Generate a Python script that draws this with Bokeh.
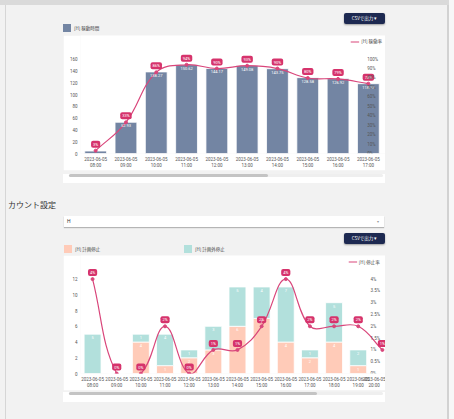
import math
from bokeh.plotting import figure
from bokeh.models import (ColumnDataSource, Range1d, LabelSet, Legend, LegendItem, Div)
from bokeh.layouts import column
from bokeh.embed import file_html
from bokeh.resources import INLINE
from bokeh.core.properties import value

# ---------------- data ----------------
date_label = "2023-06-05"
hours_top = ["08:00", "09:00", "10:00", "11:00", "12:00", "13:00", "14:00", "15:00", "16:00", "17:00"]
uptime = [4.17, 52.93, 138.27, 150.62, 144.17, 149.08, 143.75, 128.58, 126.92, 118.33]
uptime_rate = [3, 33, 86, 94, 90, 93, 90, 80, 79, 74]
y_ticks_top = [0, 20, 40, 60, 80, 100, 120, 140, 160]
pct_ticks_top = [0, 10, 20, 30, 40, 50, 60, 70, 80, 90, 100]

hours_bottom = ["08:00", "09:00", "10:00", "11:00", "12:00", "13:00", "14:00",
                "15:00", "16:00", "17:00", "18:00", "19:00", "20:00"]
planned_stop = [0, 0, 4, 1, 2, 3, 6, 7, 4, 2, 4, 1, 0]
unplanned_stop = [5, 0, 1, 4, 1, 3, 5, 4, 7, 1, 5, 2, 0]
stop_rate = [4, 0, 0, 2, 0, 1, 1, 2, 4, 2, 2, 2, 1]
y_ticks_bottom = [0, 2, 4, 6, 8, 10, 12]
pct_ticks_bottom = [0, 0.5, 1, 1.5, 2, 2.5, 3, 3.5, 4]

legend_top_bar = "[H] 稼動時間"
legend_top_line = "[H] 稼働率"
legend_bottom_a = "[H] 計画停止"
legend_bottom_b = "[H] 計画外停止"
legend_bottom_line = "[H] 停止率"
section_title = "カウント設定"
select_value = "H"
csv_label = "CSVで出力 ▾"

# ---------------- style ----------------
PAGE_BG = "#f2f2f2"
BAR_BLUE = "#7385a3"
PEACH = "#ffcbb8"
TEAL = "#b2e0dc"
PINK = "#d9467b"
PINK_BOX = "#d6336c"
NAVY = "#1d2951"
TICK_FONT = "Roboto"
JP_FONT = "Noto Sans CJK JP"


def smooth_segments(xs, ys, sx, sy, t=0.4):
    P = [(x * sx, y * sy) for x, y in zip(xs, ys)]
    n = len(P)
    cpp, cpn = [], []
    for i in range(n):
        pv = P[max(i - 1, 0)]
        c = P[i]
        nx = P[min(i + 1, n - 1)]
        d01 = math.hypot(c[0] - pv[0], c[1] - pv[1])
        d12 = math.hypot(nx[0] - c[0], nx[1] - c[1])
        tot = d01 + d12
        fa = t * d01 / tot if tot else 0
        fb = t * d12 / tot if tot else 0
        dx, dy = nx[0] - pv[0], nx[1] - pv[1]
        cpp.append((c[0] - fa * dx, c[1] - fa * dy))
        cpn.append((c[0] + fb * dx, c[1] + fb * dy))
    seg = dict(x0=[], y0=[], x1=[], y1=[], cx0=[], cy0=[], cx1=[], cy1=[])
    for i in range(n - 1):
        seg["x0"].append(P[i][0] / sx)
        seg["y0"].append(P[i][1] / sy)
        seg["x1"].append(P[i + 1][0] / sx)
        seg["y1"].append(P[i + 1][1] / sy)
        seg["cx0"].append(cpn[i][0] / sx)
        seg["cy0"].append(cpn[i][1] / sy)
        seg["cx1"].append(cpp[i + 1][0] / sx)
        seg["cy1"].append(cpp[i + 1][1] / sy)
    return seg


def style_axes(p, n, hours, yticks):
    p.xaxis.ticker = list(range(n))
    p.xaxis.major_label_overrides = {i: f"{date_label}\n{h}" for i, h in enumerate(hours)}
    p.yaxis.ticker = yticks
    for ax in (p.xaxis, p.yaxis):
        ax.axis_line_color = None
        ax.major_tick_line_color = None
        ax.minor_tick_line_color = None
        ax.major_tick_out = 0
        ax.major_tick_in = 0
        ax.minor_tick_out = 0
        ax.minor_tick_in = 0
        ax.major_label_text_font_size = "4.5px"
        ax.major_label_text_font = TICK_FONT
        ax.major_label_text_color = "#555555"
    p.xaxis.major_label_standoff = 3
    p.yaxis.major_label_standoff = 3
    p.grid.visible = False


def make_legend(p, renderer, label, margin_top):
    leg = Legend(items=[LegendItem(label=label, renderers=[renderer])],
                 location="top_right", margin=margin_top, padding=3,
                 glyph_width=9, glyph_height=5, label_standoff=2,
                 label_height=5, label_width=10,
                 label_text_font_size="4.5px", label_text_font=JP_FONT,
                 label_text_color="#444444", border_line_color=None,
                 background_fill_alpha=0)
    p.add_layout(leg)


def pink_labels(p, src):
    p.text(x="x", y="r", text="rt", source=src, y_range_name="pct",
           text_align="center", text_baseline="bottom", y_offset=-3,
           text_font_size="4px", text_font=value(TICK_FONT),
           text_color="white", background_fill_color=PINK_BOX,
           padding=(2, 1), border_radius=2)


# ---------------- top chart ----------------
n1 = len(hours_top)
px1 = 30.3
p1 = figure(frame_width=305, frame_height=120, width=322, height=136,
            x_range=Range1d(-0.5, -0.5 + 305 / px1), y_range=Range1d(0, 200),
            output_backend="svg", toolbar_location=None,
            min_border_left=17, min_border_right=0, min_border_top=0, min_border_bottom=16,
            background_fill_color="white", border_fill_color="white",
            outline_line_color=None, margin=(0, 0, 0, 63))
p1.extra_y_ranges = {"pct": Range1d(0, 125)}
style_axes(p1, n1, hours_top, y_ticks_top)

src1 = ColumnDataSource(dict(x=list(range(n1)), v=uptime, r=uptime_rate,
                             vt=[f"{v:.2f}" for v in uptime],
                             rt=[f"{r}%" for r in uptime_rate]))
p1.vbar(x="x", top="v", width=0.72, source=src1, fill_color=BAR_BLUE,
        line_color="white", line_width=0.8)
p1.add_layout(LabelSet(x="x", y="v", text="vt", source=src1, text_align="center",
                       text_baseline="top", y_offset=-2, text_font_size="4px",
                       text_font=value(TICK_FONT), text_color="white"))

seg1 = ColumnDataSource(smooth_segments(list(range(n1)), uptime_rate, px1, 0.96))
line1 = p1.bezier(x0="x0", y0="y0", x1="x1", y1="y1", cx0="cx0", cy0="cy0",
                  cx1="cx1", cy1="cy1", source=seg1, line_color=PINK,
                  line_width=1.2, y_range_name="pct")
p1.scatter(x="x", y="r", source=src1, size=3, marker="circle", fill_color=PINK,
           line_color=PINK, y_range_name="pct")
pink_labels(p1, src1)

pct_src1 = ColumnDataSource(dict(v=pct_ticks_top, t=[f"{v}%" for v in pct_ticks_top]))
p1.add_layout(LabelSet(x=8.96, y="v", text="t", source=pct_src1, y_range_name="pct",
                       text_align="left", text_baseline="middle", text_font_size="4.5px",
                       text_font=value(TICK_FONT), text_color="#555555"))
make_legend(p1, line1, legend_top_line, 3)

# ---------------- bottom chart ----------------
n2 = len(hours_bottom)
px2 = 24.15
p2 = figure(frame_width=307, frame_height=120, width=322, height=135,
            x_range=Range1d(-0.5, -0.5 + 307 / px2), y_range=Range1d(0, 15),
            output_backend="svg", toolbar_location=None,
            min_border_left=15, min_border_right=0, min_border_top=0, min_border_bottom=15,
            background_fill_color="white", border_fill_color="white",
            outline_line_color=None, margin=(0, 0, 0, 63))
p2.extra_y_ranges = {"pct": Range1d(0, 5)}
style_axes(p2, n2, hours_bottom, y_ticks_bottom)

totals = [a + b for a, b in zip(planned_stop, unplanned_stop)]
src2 = ColumnDataSource(dict(x=list(range(n2)), a=planned_stop, b=unplanned_stop,
                             r=stop_rate, rt=[f"{r}%" for r in stop_rate]))
p2.vbar_stack(["a", "b"], x="x", width=0.7, source=src2, fill_color=[PEACH, TEAL],
              line_color="white", line_width=0.8)
lab_a = ColumnDataSource(dict(
    x=[i for i in range(n2) if planned_stop[i] > 0],
    y=[planned_stop[i] for i in range(n2) if planned_stop[i] > 0],
    t=[str(planned_stop[i]) for i in range(n2) if planned_stop[i] > 0]))
lab_b = ColumnDataSource(dict(
    x=[i for i in range(n2) if unplanned_stop[i] > 0],
    y=[totals[i] for i in range(n2) if unplanned_stop[i] > 0],
    t=[str(unplanned_stop[i]) for i in range(n2) if unplanned_stop[i] > 0]))
for s in (lab_a, lab_b):
    p2.add_layout(LabelSet(x="x", y="y", text="t", source=s, text_align="center",
                           text_baseline="top", y_offset=-2, text_font_size="4px",
                           text_font=value(TICK_FONT), text_color="white"))

seg2 = ColumnDataSource(smooth_segments(list(range(n2)), stop_rate, px2, 24))
line2 = p2.bezier(x0="x0", y0="y0", x1="x1", y1="y1", cx0="cx0", cy0="cy0",
                  cx1="cx1", cy1="cy1", source=seg2, line_color=PINK,
                  line_width=1.2, y_range_name="pct")
p2.scatter(x="x", y="r", source=src2, size=3, marker="circle", fill_color=PINK,
           line_color=PINK, y_range_name="pct")
pink_labels(p2, src2)
pct_src2 = ColumnDataSource(dict(v=pct_ticks_bottom, t=[f"{v:g}%" for v in pct_ticks_bottom]))
p2.add_layout(LabelSet(x=11.51, y="v", text="t", source=pct_src2, y_range_name="pct",
                       text_align="left", text_baseline="middle", text_font_size="4.5px",
                       text_font=value(TICK_FONT), text_color="#555555"))
make_legend(p2, line2, legend_bottom_line, 4)

# ---------------- html pieces ----------------
def button(left, top):
    return (f'<div style="position:absolute;left:{left}px;top:{top}px;width:41px;height:11px;'
            f'background:{NAVY};border-radius:2px;color:#fff;font-size:4.5px;line-height:11px;'
            f'text-align:center;box-shadow:0 1px 2px rgba(0,0,0,.35);font-family:\'{JP_FONT}\'">{csv_label}</div>')


def legend_box(left, top, color, label):
    return (f'<div style="position:absolute;left:{left}px;top:{top}px;width:8px;height:8px;background:{color}"></div>'
            f'<div style="position:absolute;left:{left + 11}px;top:{top}px;height:8px;line-height:8px;'
            f'font-size:4.5px;color:#444;white-space:nowrap;font-family:\'{JP_FONT}\'">{label}</div>')


header = Div(width=454, height=35, margin=(0, 0, 0, 0), text=(
    '<div style="position:relative;width:454px;height:35px">'
    '<div style="position:absolute;left:0px;top:0px;width:449px;height:5px;background:#dadada"></div>'
    + button(344, 13) + legend_box(63, 24, BAR_BLUE, legend_top_bar) + '</div>'))


def scroll(bar_w, h):
    return Div(width=322, height=h, margin=(0, 0, 0, 63), text=(
        f'<div style="position:relative;width:322px;height:{h}px;background:#fff">'
        f'<div style="position:absolute;left:6px;top:0px;width:314px;height:3px;background:#efefef;border-radius:2px"></div>'
        f'<div style="position:absolute;left:6px;top:0px;width:{bar_w}px;height:3px;background:#c4c4c4;border-radius:2px"></div>'
        '</div>'))


middle = Div(width=454, height=75, margin=(0, 0, 0, 0), text=(
    '<div style="position:relative;width:454px;height:75px">'
    f'<div style="position:absolute;left:8px;top:19px;font-size:8px;line-height:12px;color:#333;'
    f'font-family:\'{JP_FONT}\';white-space:nowrap">{section_title}</div>'
    f'<div style="position:absolute;left:64px;top:36px;width:320px;height:11px;background:#fff;'
    f'box-shadow:0 1px 1px rgba(0,0,0,.25)">'
    f'<div style="position:absolute;left:3px;top:0px;line-height:11px;font-size:5px;color:#333;font-family:\'{TICK_FONT}\'">{select_value}</div>'
    f'<div style="position:absolute;right:5px;top:0px;line-height:11px;font-size:4px;color:#999">▾</div></div>'
    + button(344, 53)
    + legend_box(64, 65, PEACH, legend_bottom_a)
    + legend_box(184, 65, TEAL, legend_bottom_b)
    + '</div>'))

filler = Div(width=454, height=19, margin=(0, 0, 0, 0), text="")

frame_bg = ("linear-gradient(#d2d2d2,#d2d2d2) 447px 0/2px 100% no-repeat, "
            "linear-gradient(#d6d6d6,#d6d6d6) 5px 5px/1px 100% no-repeat, "
            "linear-gradient(#f7f7f7,#f7f7f7) 449px 0/5px 100% no-repeat, "
            + PAGE_BG)

root = column(header, p1, scroll(199, 9), middle, p2, scroll(248, 10), filler,
              width=454, height=419, spacing=0,
              styles={"background": frame_bg})

open("out.html", "w").write(file_html(root, INLINE))
